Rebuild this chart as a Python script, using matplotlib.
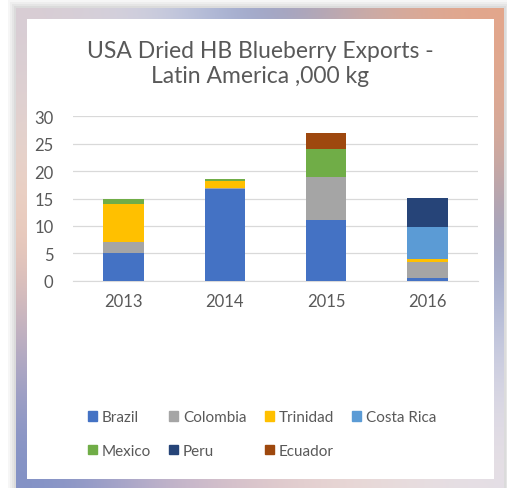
import numpy as np
import matplotlib
import matplotlib.pyplot as plt
from matplotlib.patches import Rectangle, Patch
from matplotlib.colors import to_rgb

matplotlib.use("Agg")
plt.rcParams["font.family"] = ["Lato", "DejaVu Sans"]

# Exports, thousand kg, stacked by country
years = ["2013", "2014", "2015", "2016"]
brazil = [5.0, 16.8, 11.0, 0.5]
colombia = [2.0, 0.2, 8.0, 2.9]
trinidad = [7.0, 1.2, 0.0, 0.6]
costa_rica = [0.0, 0.0, 0.0, 5.8]
mexico = [1.0, 0.4, 5.0, 0.0]
peru = [0.0, 0.0, 0.0, 5.2]
ecuador = [0.0, 0.0, 3.0, 0.0]

series = [
    ("Brazil", brazil, "#4472C4"),
    ("Colombia", colombia, "#A5A5A5"),
    ("Trinidad", trinidad, "#FFC000"),
    ("Costa Rica", costa_rica, "#5B9BD5"),
    ("Mexico", mexico, "#70AD47"),
    ("Peru", peru, "#264478"),
    ("Ecuador", ecuador, "#9E480E"),
]

W, H = 507, 489
fig = plt.figure(figsize=(W / 100, H / 100), dpi=100)
fig.patch.set_facecolor("white")

# decorative frame: soft shadow, gradient border, white panel
bg = fig.add_axes([0, 0, 1, 1])
bg.set_xlim(0, W)
bg.set_ylim(H, 0)
bg.axis("off")
for k, a in enumerate([0.05, 0.05, 0.06, 0.07]):
    d = 8 - 2 * k
    bg.add_patch(Rectangle((16 - d, 9 - d), 488 + 2 * d, 482 + 2 * d,
                           color="#606060", alpha=a, lw=0))
grid_cols = [
    ["#d8cdd4", "#cfd2e2", "#8a9ac8", "#c9aaa6", "#e4a68a"],
    ["#e6d2ca", "#ffffff", "#ffffff", "#ffffff", "#d4a898"],
    ["#eec8b4", "#ffffff", "#ffffff", "#ffffff", "#8e9ac2"],
    ["#b8aac0", "#ffffff", "#ffffff", "#ffffff", "#c6cae0"],
    ["#7f90c6", "#c0b0c8", "#dcc4c8", "#ead8d4", "#e6e0e6"],
]
img = np.array([[to_rgb(c) for c in row] for row in grid_cols])
bg.imshow(img, extent=(16, 504, 489, 9), interpolation="bicubic",
          aspect="auto", zorder=1)
bg.add_patch(Rectangle((27, 20), 467, 460, color="white", lw=0, zorder=2))

ax = fig.add_axes([73 / W, 1 - 281.7 / H, 405 / W, 164.4 / H])
ax.set_facecolor("none")
x = np.arange(len(years))
bottom = np.zeros(len(years))
handles = {}
for name, vals, col in series:
    vals = np.array(vals)
    ax.bar(x, vals, 0.4, bottom=bottom, color=col, zorder=3)
    handles[name] = Patch(color=col, label=name)
    bottom += vals

ax.set_xlim(-0.5, 3.5)
ax.set_ylim(0, 30)
ax.set_yticks(range(0, 31, 5))
ax.set_xticks(x)
ax.set_xticklabels(years)
ax.grid(axis="y", color="#d9d9d9", lw=0.9, zorder=0)
for s in ["top", "right", "left"]:
    ax.spines[s].set_visible(False)
ax.spines["bottom"].set_color("#d9d9d9")
ax.tick_params(length=0, labelsize=12, colors="#595959")
ax.tick_params(axis="y", pad=14)
ax.tick_params(axis="x", pad=9)

fig.text(260 / W, 1 - 64 / H, "USA Dried HB Blueberry Exports -\nLatin America ,000 kg",
         ha="center", va="center", fontsize=16.5, color="#595959", linespacing=1.25)

order = ["Brazil", "Mexico", "Colombia", "Peru", "Trinidad", "Ecuador", "Costa Rica"]
leg = fig.legend([handles[n] for n in order], order, ncol=4,
                 loc="center", bbox_to_anchor=(262 / W, 1 - 435 / H),
                 frameon=False, fontsize=11, handlelength=0.6, handleheight=0.6,
                 handletextpad=0.3, columnspacing=1.2, labelspacing=1.3)
for t in leg.get_texts():
    t.set_color("#595959")

fig.savefig("out.png", dpi=100, facecolor="white")
